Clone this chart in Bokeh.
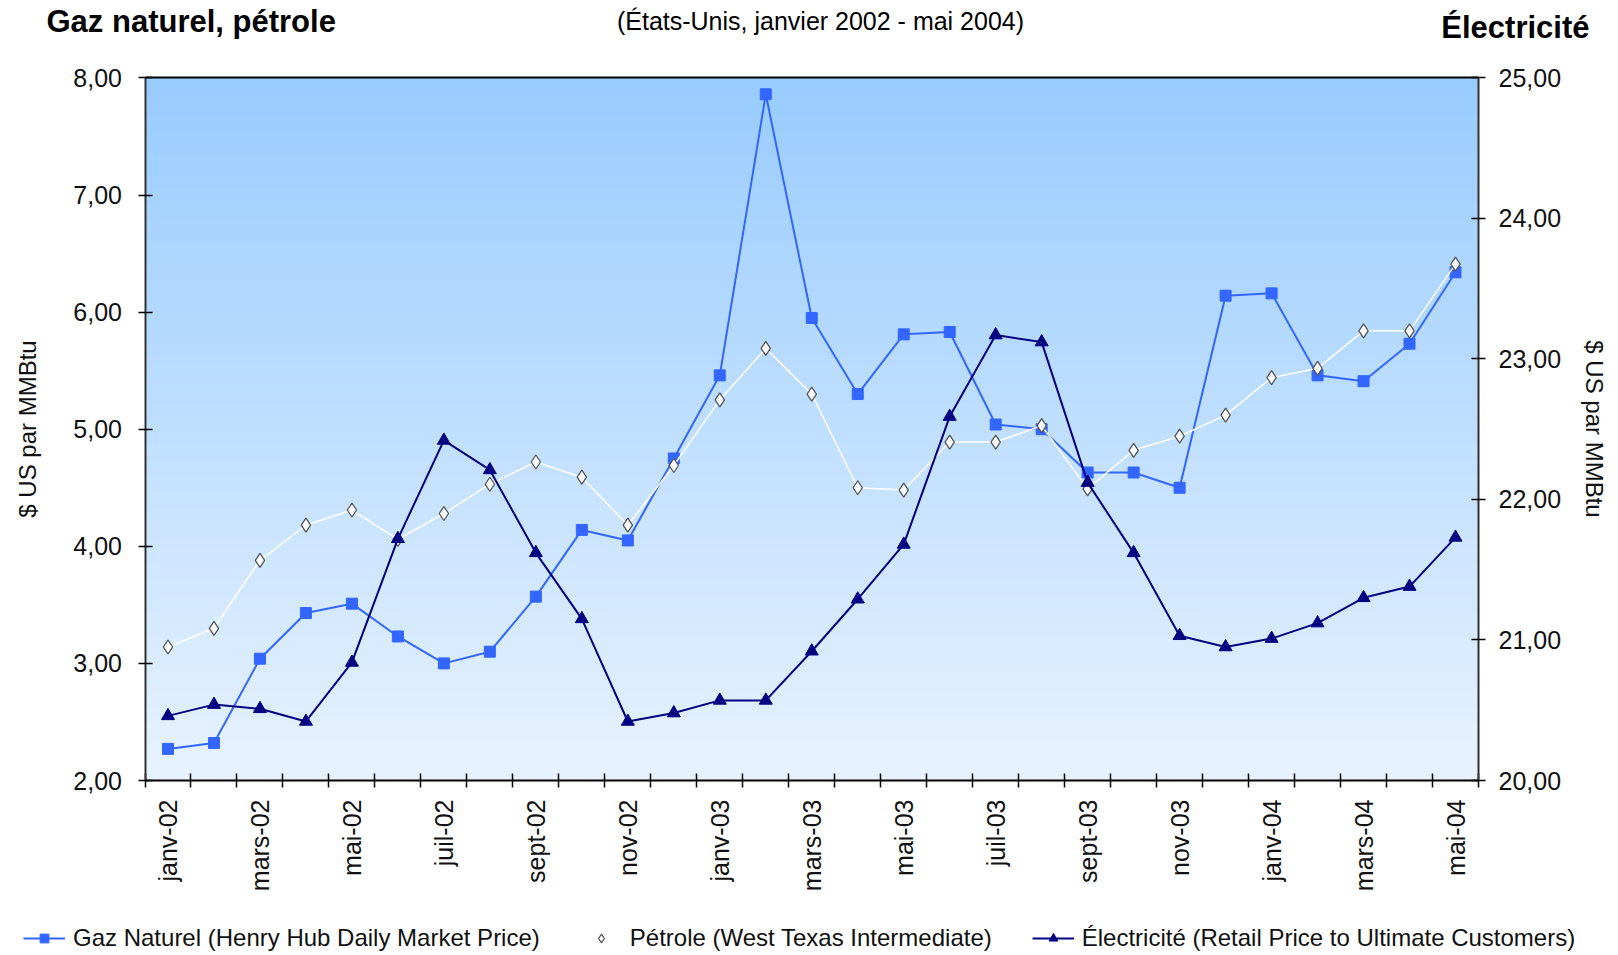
import math
import numpy as np
from bokeh.plotting import figure
from bokeh.models import (Range1d, LinearAxis, FixedTicker, Label, Legend, LegendItem)
from bokeh.embed import file_html
from bokeh.resources import INLINE

months = ["janv-02", "févr-02", "mars-02", "avr-02", "mai-02", "juin-02", "juil-02", "août-02",
          "sept-02", "oct-02", "nov-02", "déc-02", "janv-03", "févr-03", "mars-03", "avr-03",
          "mai-03", "juin-03", "juil-03", "août-03", "sept-03", "oct-03", "nov-03", "déc-03",
          "janv-04", "févr-04", "mars-04", "avr-04", "mai-04"]

gaz = [2.27, 2.32, 3.04, 3.43, 3.51, 3.23, 3.00, 3.10, 3.57, 4.14, 4.05, 4.75,
       5.46, 7.86, 5.95, 5.30, 5.81, 5.83, 5.04, 5.00, 4.63, 4.63, 4.50, 6.14,
       6.16, 5.46, 5.41, 5.73, 6.34]

petrole = [3.14, 3.30, 3.88, 4.18, 4.31, 4.06, 4.28, 4.53, 4.72, 4.59, 4.18, 4.69,
           5.25, 5.69, 5.30, 4.50, 4.48, 4.89, 4.89, 5.03, 4.49, 4.82, 4.94, 5.12,
           5.44, 5.52, 5.84, 5.84, 6.41]

electricite = [20.46, 20.54, 20.51, 20.42, 20.84, 21.72, 22.42, 22.21, 21.62, 21.15, 20.42, 20.48,
               20.57, 20.57, 20.92, 21.29, 21.68, 22.59, 23.17, 23.12, 22.12, 21.62, 21.03, 20.95,
               21.01, 21.12, 21.30, 21.38, 21.73]

left_ticks = [2, 3, 4, 5, 6, 7, 8]
left_labels = ["2,00", "3,00", "4,00", "5,00", "6,00", "7,00", "8,00"]
right_ticks = [20, 21, 22, 23, 24, 25]
right_labels = ["20,00", "21,00", "22,00", "23,00", "24,00", "25,00"]

series_names = ["Gaz Naturel (Henry Hub Daily Market Price)",
                "Pétrole (West Texas Intermediate)",
                "Électricité (Retail Price to Ultimate Customers)"]
heading_left = "Gaz naturel, pétrole"
heading_right = "Électricité"
subtitle = "(États-Unis, janvier 2002 - mai 2004)"
axis_title = "$ US par MMBtu"

FONT = "Liberation Sans"

# ---- layout (pixels on the canvas) ----
W, H = 1610, 953
PL, PR = 144.5, 1478.0      # plot area left / right
PT, PB = 77.4, 780.0        # plot area top / bottom

n = len(months)
xs = list(range(n))
cx0, cx1 = -0.5, n - 0.5
ly0, ly1 = left_ticks[0], left_ticks[-1]
ry0, ry1 = right_ticks[0], right_ticks[-1]

# ranges chosen so the plot area lands on the rectangle above; the frame is the whole canvas
ux = (cx1 - cx0) / (PR - PL)
x_range = Range1d(cx0 - PL * ux, cx0 + (W - PL) * ux)
uly = (ly1 - ly0) / (PB - PT)
y_range = Range1d(ly0 - (H - PB) * uly, ly1 + PT * uly)
ury = (ry1 - ry0) / (PB - PT)
r_range = Range1d(ry0 - (H - PB) * ury, ry1 + PT * ury)

p = figure(width=W, height=H, output_backend="svg", toolbar_location=None,
           x_range=x_range, y_range=y_range, x_axis_type=None, y_axis_type=None,
           min_border=0)
p.xgrid.visible = False
p.ygrid.visible = False
p.outline_line_color = None
p.background_fill_color = "white"
p.border_fill_color = "white"
p.extra_y_ranges = {"elec": r_range}

# vertical gradient of the plot area
ny = 200
img = np.empty((ny, 2), dtype=np.uint32)
view = img.view(dtype=np.uint8).reshape((ny, 2, 4))
top = np.array([153, 204, 255]); bottom = np.array([232, 243, 255])
t = np.linspace(0, 1, ny)[:, None]
for c in range(3):
    view[:, :, c] = (bottom[c] + (top[c] - bottom[c]) * t).astype(np.uint8)
view[:, :, 3] = 255
p.image_rgba(image=[img], x=cx0, y=ly0, dw=cx1 - cx0, dh=ly1 - ly0)

# ---- axes ----
xaxis = LinearAxis(fixed_location=ly0, bounds=(cx0, cx1),
                   ticker=FixedTicker(ticks=xs[::2], minor_ticks=[i - 0.5 for i in range(n + 1)]))
xaxis.major_label_overrides = {i: months[i] for i in xs[::2]}
xaxis.major_label_orientation = math.pi / 2
xaxis.major_tick_in = 0
xaxis.major_tick_out = 0
xaxis.minor_tick_in = 7
xaxis.minor_tick_out = 7
xaxis.minor_tick_line_color = "black"
xaxis.minor_tick_line_width = 1.5
xaxis.axis_line_color = "black"
xaxis.axis_line_width = 2
xaxis.major_label_standoff = 12
xaxis.major_label_text_font = FONT
xaxis.major_label_text_font_size = "25px"
xaxis.major_label_text_color = "#111111"
p.add_layout(xaxis, "below")

topaxis = LinearAxis(fixed_location=ly1, bounds=(cx0, cx1), ticker=FixedTicker(ticks=[], minor_ticks=[]))
topaxis.axis_line_color = "black"
topaxis.axis_line_width = 2
topaxis.major_label_text_font_size = "0px"
p.add_layout(topaxis, "above")

laxis = LinearAxis(fixed_location=cx0, bounds=(ly0, ly1),
                   ticker=FixedTicker(ticks=left_ticks, minor_ticks=[]))
laxis.major_label_overrides = dict(zip(left_ticks, left_labels))
laxis.axis_label = axis_title
p.add_layout(laxis, "left")

raxis = LinearAxis(y_range_name="elec", fixed_location=cx1, bounds=(ry0, ry1),
                   ticker=FixedTicker(ticks=right_ticks, minor_ticks=[]))
raxis.major_label_overrides = dict(zip(right_ticks, right_labels))
raxis.axis_label = axis_title
p.add_layout(raxis, "right")

for ax in (laxis, raxis):
    ax.major_tick_in = 7
    ax.major_tick_out = 7
    ax.major_tick_line_color = "black"
    ax.major_tick_line_width = 1.5
    ax.minor_tick_line_color = None
    ax.axis_line_color = "#333333"
    ax.axis_line_width = 2
    ax.major_label_text_font = FONT
    ax.major_label_text_font_size = "25px"
    ax.major_label_text_color = "#111111"
    ax.axis_label_text_font = FONT
    ax.axis_label_text_font_size = "24px"
    ax.axis_label_text_font_style = "normal"
    ax.axis_label_text_color = "#111111"
laxis.major_label_standoff = 16
laxis.axis_label_standoff = 30
raxis.major_label_standoff = 13
raxis.axis_label_standoff = 17

# ---- series ----
gas_col = "#3366FF"
g_line = p.line(xs, gaz, line_color=gas_col, line_width=2)
g_pts = p.scatter(xs, gaz, marker="square", size=11, fill_color=gas_col, line_color=gas_col)

o_line = p.line(xs, petrole, line_color="white", line_width=1.5)
o_pts = p.scatter(xs, petrole, marker="diamond", size=14, fill_color="white",
                  line_color="#555555", line_width=1.3)

elec_col = "#000080"
e_line = p.line(xs, electricite, line_color=elec_col, line_width=2, y_range_name="elec")
e_pts = p.scatter(xs, electricite, marker="triangle", size=13, fill_color=elec_col, line_color=elec_col,
                  y_range_name="elec")

legend = Legend(items=[LegendItem(label=series_names[0], renderers=[g_line, g_pts]),
                       LegendItem(label=series_names[1], renderers=[o_line, o_pts]),
                       LegendItem(label=series_names[2], renderers=[e_line, e_pts])],
                orientation="horizontal", location=(23, 1),
                label_text_font=FONT, label_text_font_size="24px", label_text_color="#111111",
                glyph_width=42, glyph_height=22, label_standoff=8, spacing=40,
                padding=0, margin=0, border_line_color=None, background_fill_alpha=0)
p.add_layout(legend, "center")

# ---- headings ----
p.add_layout(Label(x=46, y=H - 21, x_units="screen", y_units="screen", text=heading_left,
                   text_font=FONT, text_font_size="31px", text_font_style="bold",
                   text_align="left", text_baseline="alphabetic", text_color="black"))
p.add_layout(Label(x=1589, y=H - 27, x_units="screen", y_units="screen", text=heading_right,
                   text_font=FONT, text_font_size="31px", text_font_style="bold",
                   text_align="right", text_baseline="alphabetic", text_color="black"))
p.add_layout(Label(x=820, y=H - 20, x_units="screen", y_units="screen", text=subtitle,
                   text_font=FONT, text_font_size="25px",
                   text_align="center", text_baseline="alphabetic", text_color="black"))

open("out.html", "w").write(file_html(p, INLINE))
